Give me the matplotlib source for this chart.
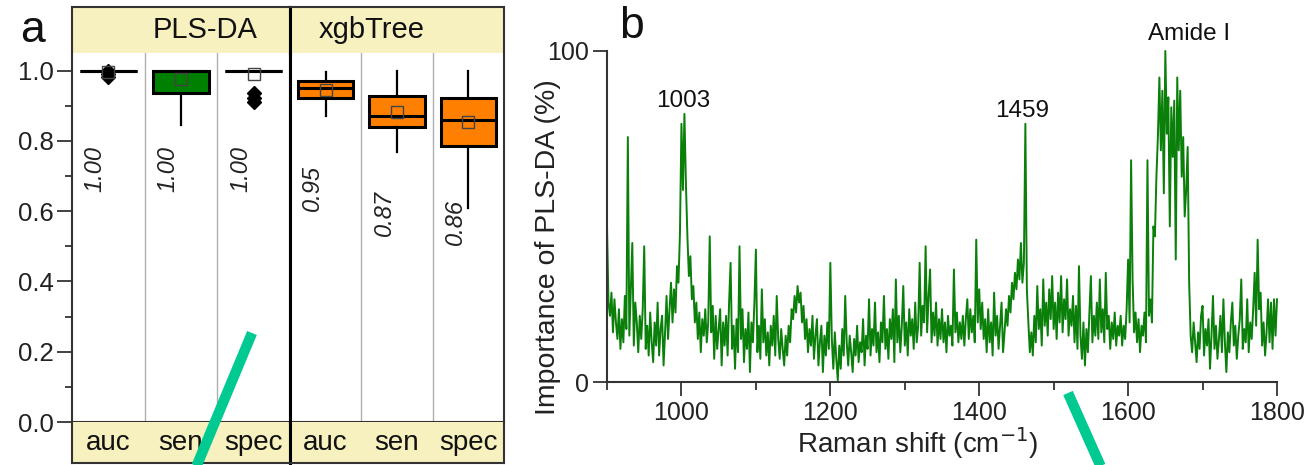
import numpy as np
import matplotlib
matplotlib.use("Agg")
import matplotlib.pyplot as plt
from matplotlib.lines import Line2D
from matplotlib.ticker import MultipleLocator, FormatStrFormatter

plt.rcParams['font.family'] = ['Liberation Sans', 'DejaVu Sans']

# ---- panel a: cross-validated metrics per model ----
models = ['PLS-DA', 'xgbTree']
metrics = ['auc', 'sen', 'spec']
box_colors = ['#008000', '#FF8000']

medians = [[1.00, 1.00, 1.00], [0.95, 0.87, 0.86]]
q1 = [[1.00, 0.935, 1.00], [0.923, 0.840, 0.784]]
q3 = [[1.00, 1.00, 1.00], [0.971, 0.929, 0.923]]
whis_lo = [[1.00, 0.845, 1.00], [0.872, 0.769, 0.610]]
whis_hi = [[1.00, 1.00, 1.00], [0.997, 1.00, 1.00]]
means = [[0.995, 0.977, 0.991], [0.945, 0.883, 0.855]]
fliers = [[[0.998, 0.99, 0.982], [], [0.935, 0.921, 0.91]], [[], [], []]]
label_y = [[0.72, 0.72, 0.72], [0.665, 0.595, 0.57]]

# ---- panel b: PLS-DA variable importance, 900-1800 cm-1 in 2 cm-1 steps ----
importance = [
    47, 24, 20, 27, 15, 25, 18, 13, 22, 10, 19, 12, 26, 16, 74,
    14, 28, 42, 11, 24, 18, 9, 20, 13, 22, 41, 10, 17, 8, 21,
    12, 6, 18, 11, 24, 8, 16, 20, 5, 15, 26, 13, 22, 30, 18,
    28, 21, 35, 30, 45, 78, 58, 81, 60, 44, 32, 38, 25, 29, 18,
    24, 13, 21, 9, 19, 14, 22, 12, 18, 44, 15, 23, 7, 20, 10,
    16, 22, 5, 18, 11, 20, 8, 24, 36, 10, 17, 4, 19, 9, 41,
    13, 22, 6, 16, 10, 21, 3, 18, 12, 24, 40, 9, 17, 7, 28,
    12, 19, 8, 15, 5, 17, 11, 20, 8, 26, 13, 7, 16, 10, 5,
    14, 8, 17, 12, 22, 19, 26, 21, 29, 24, 27, 18, 23, 13, 19,
    9, 16, 11, 20, 7, 14, 19, 5, 12, 17, 3, 14, 8, 18, 10,
    36, 13, 4, 15, 7, 0.5, 11, 4, 16, 8, 26, 12, 5, 14, 9,
    3, 13, 8, 17, 6, 12, 9, 19, 5, 14, 10, 25, 8, 16, 11,
    24, 9, 15, 6, 18, 12, 26, 10, 16, 7, 19, 13, 22, 6, 31,
    12, 20, 9, 17, 29, 11, 18, 8, 22, 14, 19, 10, 24, 12, 17,
    36, 14, 23, 18, 41, 15, 26, 34, 12, 21, 14, 24, 11, 19, 13,
    22, 12, 18, 9, 20, 14, 17, 11, 34, 15, 21, 12, 18, 13, 20,
    11, 19, 25, 13, 22, 15, 20, 12, 43, 18, 28, 16, 24, 13, 19,
    9, 22, 12, 18, 8, 27, 14, 20, 10, 17, 24, 9, 15, 22, 17,
    26, 21, 30, 25, 33, 28, 37, 31, 42, 30, 36, 78, 28, 18, 9,
    15, 8, 20, 12, 29, 16, 22, 11, 31, 17, 24, 14, 28, 19, 32,
    16, 24, 13, 27, 18, 32, 15, 25, 19, 31, 14, 22, 17, 26, 12,
    23, 10, 35, 14, 7, 18, 5, 16, 9, 21, 32, 12, 20, 14, 24,
    13, 31, 15, 22, 12, 33, 16, 20, 10, 18, 13, 21, 11, 17, 14,
    20, 11, 17, 13, 22, 37, 18, 67, 31, 15, 21, 12, 19, 9, 17,
    14, 21, 12, 67, 20, 25, 18, 47, 44, 62, 74, 92, 70, 88, 57,
    100, 75, 86, 47, 83, 68, 85, 37, 92, 70, 88, 62, 74, 50, 58,
    71, 30, 14, 9, 18, 12, 6, 15, 10, 20, 23, 8, 16, 11, 19,
    4, 14, 26, 10, 17, 7, 13, 20, 9, 25, 12, 3, 15, 9, 18,
    24, 11, 17, 7, 14, 19, 31, 10, 16, 12, 25, 9, 18, 13, 22,
    33, 17, 43, 22, 27, 11, 18, 8, 15, 25, 12, 24, 10, 25, 14,
    25,
]
wavenumber = 900 + 2 * np.arange(len(importance))
peak_labels = [(1003, 85, '1003'), (1457, 82, '1459'), (1682, 105, 'Amide I')]

W, H = 1309, 465
strip_color = '#F6F1BF'
frame = '#333333'

fig = plt.figure(figsize=(W / 100, H / 100), dpi=100)


def fx(px):
    return px / W


def fy(py):
    return 1 - py / H


edges = [72, 290, 504]
title_x = [0.61, 0.38]  # strip titles sit nearer the divider
bottom, top = fy(422), fy(53)
head_top, foot_bot = fy(7), fy(463)

for g, name in enumerate(models):
    left, width = fx(edges[g]), fx(edges[g + 1] - edges[g])
    ax = fig.add_axes([left, bottom, width, top - bottom])
    stats = []
    for k in range(3):
        stats.append(dict(med=medians[g][k], q1=q1[g][k], q3=q3[g][k],
                          whislo=whis_lo[g][k], whishi=whis_hi[g][k],
                          mean=means[g][k], fliers=fliers[g][k]))
    ax.bxp(stats, positions=[1, 2, 3], widths=0.78, patch_artist=True,
           showmeans=True, showcaps=False,
           boxprops=dict(facecolor=box_colors[g], edgecolor='black', linewidth=2.2),
           medianprops=dict(color='black', linewidth=2.2),
           whiskerprops=dict(color='black', linewidth=1.6),
           meanprops=dict(marker='s', markerfacecolor='none', markeredgecolor='#444444',
                          markersize=8, markeredgewidth=1.0),
           flierprops=dict(marker='D', markerfacecolor='black', markeredgecolor='black',
                           markersize=7))
    for xs in (1.5, 2.5):
        ax.axvline(xs, color='#B0B0B0', lw=1.0, zorder=0)
    for k in range(3):
        ax.text(k + 1 - 0.18, label_y[g][k], f"{medians[g][k]:.2f}", rotation=90,
                style='italic', ha='center', va='center', fontsize=17, color='#222222')
    ax.set_xlim(0.5, 3.5)
    ax.set_ylim(0, 1.05)
    ax.set_xticks([])
    ax.spines['top'].set_visible(False)
    ax.spines['bottom'].set_color(frame)
    ax.spines['bottom'].set_linewidth(1.5)
    if g == 0:
        ax.spines['left'].set_color(frame)
        ax.spines['left'].set_linewidth(1.5)
        ax.spines['right'].set_color('black')
        ax.spines['right'].set_linewidth(2.2)
        ax.yaxis.set_major_locator(MultipleLocator(0.2))
        ax.yaxis.set_minor_locator(MultipleLocator(0.1))
        ax.yaxis.set_major_formatter(FormatStrFormatter('%.1f'))
        ax.tick_params(axis='y', which='major', direction='out', length=11, width=1.3,
                       color=frame, labelsize=18.5, labelcolor='#222222', pad=2)
        ax.tick_params(axis='y', which='minor', direction='out', length=5, width=1.3,
                       color=frame)
    else:
        ax.spines['left'].set_color('black')
        ax.spines['left'].set_linewidth(2.2)
        ax.spines['right'].set_color(frame)
        ax.spines['right'].set_linewidth(1.5)
        ax.set_yticks([])

    # title strip above and metric strip below
    head = fig.add_axes([left, top, width, head_top - top], facecolor=strip_color)
    head.text(title_x[g], 0.5, name, ha='center', va='center', fontsize=21,
              color='#111111', transform=head.transAxes)
    foot = fig.add_axes([left, foot_bot, width, bottom - foot_bot], facecolor=strip_color)
    foot.set_xlim(0.5, 3.5)
    for k, m in enumerate(metrics):
        foot.text(k + 1, 0.5, m, ha='center', va='center', fontsize=20, color='#111111',
                  transform=foot.get_xaxis_transform())
    for strip, hidden in ((head, 'bottom'), (foot, 'top')):
        strip.set_xticks([])
        strip.set_yticks([])
        strip.spines[hidden].set_visible(False)
        for s in ('top', 'bottom'):
            strip.spines[s].set_color(frame)
            strip.spines[s].set_linewidth(1.5)
        strip.spines['left'].set_color('black' if g == 1 else frame)
        strip.spines['left'].set_linewidth(2.2 if g == 1 else 1.5)
        strip.spines['right'].set_color('black' if g == 0 else frame)
        strip.spines['right'].set_linewidth(2.2 if g == 0 else 1.5)

fig.text(fx(33), fy(30), 'a', ha='center', va='center', fontsize=32, color='#111111')

# ---- panel b ----
axb = fig.add_axes([fx(607), fy(382), fx(1277 - 607), fy(51) - fy(382)])
axb.plot(wavenumber, importance, color='#0A7F0A', lw=1.4, clip_on=False)
axb.set_xlim(900, 1800)
axb.set_ylim(0, 100)
axb.spines['top'].set_visible(False)
axb.spines['right'].set_visible(False)
for s in ('left', 'bottom'):
    axb.spines[s].set_color(frame)
    axb.spines[s].set_linewidth(1.5)
axb.set_xticks([1000, 1200, 1400, 1600, 1800])
axb.xaxis.set_minor_locator(MultipleLocator(100))
axb.set_yticks([0, 100])
axb.tick_params(which='major', direction='out', length=10, width=1.3, color=frame,
                labelsize=18, labelcolor='#222222', pad=4)
axb.tick_params(axis='y', pad=3)
axb.tick_params(which='minor', direction='out', length=6, width=1.3, color=frame)
for xp, yp, txt in peak_labels:
    axb.text(xp, yp, txt, ha='center', va='center', fontsize=17.5, color='#111111',
             clip_on=False)

fig.text(fx(548), fy(247), 'Importance of PLS-DA (%)', rotation=90, ha='center',
         va='center', fontsize=20.5, color='#222222')
fig.text(fx(918), fy(443), 'Raman shift (cm$^{-1}$)', ha='center', va='center',
         fontsize=20, color='#222222')
fig.text(fx(632), fy(27), 'b', ha='center', va='center', fontsize=32, color='#111111')

# two teal pen strokes across the bottom of the figure
for (x0, y0), (x1, y1) in (((252, 333), (192, 477)), ((1068, 393), (1105, 476))):
    fig.add_artist(Line2D([fx(x0), fx(x1)], [fy(y0), fy(y1)], color='#00C992', lw=7.5,
                          solid_capstyle='butt', transform=fig.transFigure))

fig.savefig('out.png', dpi=100)
